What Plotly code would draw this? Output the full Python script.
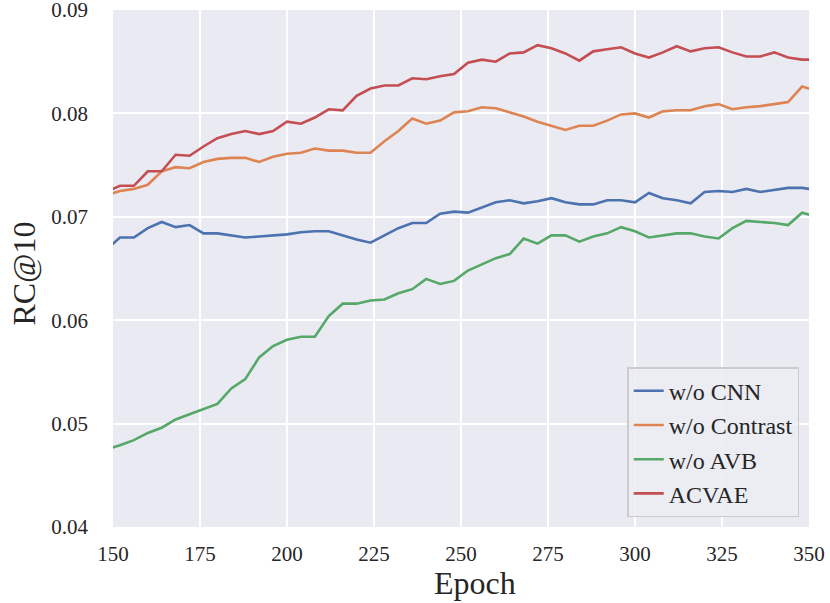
import plotly.graph_objects as go

# epochs every 4, slightly beyond the visible 150-350 window
epochs = list(range(148, 353, 4))

wo_cnn = [0.0668, 0.0680, 0.0680, 0.0689, 0.0695, 0.0690, 0.0692, 0.0684, 0.0684, 0.0682,
          0.0680, 0.0681, 0.0682, 0.0683, 0.0685, 0.0686, 0.0686, 0.0682, 0.0678, 0.0675,
          0.0682, 0.0689, 0.0694, 0.0694, 0.0703, 0.0705, 0.0704, 0.0709, 0.0714, 0.0716,
          0.0713, 0.0715, 0.0718, 0.0714, 0.0712, 0.0712, 0.0716, 0.0716, 0.0714, 0.0723,
          0.0718, 0.0716, 0.0713, 0.0724, 0.0725, 0.0724, 0.0727, 0.0724, 0.0726, 0.0728,
          0.0728, 0.0726]

wo_contrast = [0.0721, 0.0725, 0.0727, 0.0731, 0.0744, 0.0748, 0.0747, 0.0753, 0.0756, 0.0757,
               0.0757, 0.0753, 0.0758, 0.0761, 0.0762, 0.0766, 0.0764, 0.0764, 0.0762, 0.0762,
               0.0773, 0.0783, 0.0795, 0.0790, 0.0793, 0.0801, 0.0802, 0.0806, 0.0805, 0.0801,
               0.0797, 0.0792, 0.0788, 0.0784, 0.0788, 0.0788, 0.0793, 0.0799, 0.0800, 0.0796,
               0.0802, 0.0803, 0.0803, 0.0807, 0.0809, 0.0804, 0.0806, 0.0807, 0.0809, 0.0811,
               0.0826, 0.0822]

wo_avb = [0.0475, 0.0479, 0.0484, 0.0491, 0.0496, 0.0504, 0.0509, 0.0514, 0.0519, 0.0534,
          0.0543, 0.0564, 0.0575, 0.0581, 0.0584, 0.0584, 0.0604, 0.0616, 0.0616, 0.0619,
          0.0620, 0.0626, 0.0630, 0.0640, 0.0635, 0.0638, 0.0648, 0.0654, 0.0660, 0.0664,
          0.0679, 0.0674, 0.0682, 0.0682, 0.0676, 0.0681, 0.0684, 0.0690, 0.0686, 0.0680,
          0.0682, 0.0684, 0.0684, 0.0681, 0.0679, 0.0689, 0.0696, 0.0695, 0.0694, 0.0692,
          0.0704, 0.0700]

acvae = [0.0724, 0.0730, 0.0730, 0.0744, 0.0744, 0.0760, 0.0759, 0.0768, 0.0776, 0.0780,
         0.0783, 0.0780, 0.0783, 0.0792, 0.0790, 0.0796, 0.0804, 0.0803, 0.0817, 0.0824,
         0.0827, 0.0827, 0.0834, 0.0833, 0.0836, 0.0838, 0.0849, 0.0852, 0.0850, 0.0858,
         0.0859, 0.0866, 0.0863, 0.0858, 0.0851, 0.0860, 0.0862, 0.0864, 0.0858, 0.0854,
         0.0859, 0.0865, 0.0860, 0.0863, 0.0864, 0.0859, 0.0855, 0.0855, 0.0859, 0.0854,
         0.0852, 0.0852]

x_ticks = [150, 175, 200, 225, 250, 275, 300, 325, 350]
y_ticks = [0.04, 0.05, 0.06, 0.07, 0.08, 0.09]

series = [
    ("w/o CNN", wo_cnn, "#4C72B0"),
    ("w/o Contrast", wo_contrast, "#DD8452"),
    ("w/o AVB", wo_avb, "#55A868"),
    ("ACVAE", acvae, "#C44E52"),
]

fig = go.Figure()
for name, vals, color in series:
    fig.add_trace(go.Scatter(x=epochs, y=vals, mode="lines", name=name,
                             line=dict(color=color, width=2.6)))

font_family = "Liberation Serif"
fig.update_layout(
    width=830, height=603,
    margin=dict(l=113, r=21, t=10, b=76),
    paper_bgcolor="white",
    plot_bgcolor="#EAEAF2",
    font=dict(family=font_family, color="#262626", size=21),
    legend=dict(
        x=0.986, y=0.019, xanchor="right", yanchor="bottom",
        bgcolor="rgba(236,236,243,0.85)",
        bordercolor="#cccccc", borderwidth=1.5,
        font=dict(size=24, family=font_family, color="#262626"),
    ),
    showlegend=True,
)
fig.update_xaxes(
    range=[150, 350], tickvals=x_ticks,
    showgrid=True, gridcolor="white", gridwidth=2, zeroline=False,
    showline=False, ticks="", ticklabelstandoff=12, automargin=False,
    tickfont=dict(size=21),
)
fig.update_yaxes(
    range=[0.0399999, 0.0900001], tickvals=y_ticks,
    tickformat=".2f",
    showgrid=True, gridcolor="white", gridwidth=2, zeroline=False,
    showline=False, ticks="", ticklabelstandoff=24, automargin=False,
    ticklabeloverflow="allow",
    tickfont=dict(size=21),
)

# axis titles as annotations so they sit where the reference puts them
fig.add_annotation(text="Epoch", xref="paper", yref="paper", x=0.52, y=-0.108,
                   xanchor="center", yanchor="middle", showarrow=False,
                   font=dict(size=32, family=font_family, color="#262626"))
fig.add_annotation(text="RC@10", xref="paper", yref="paper", x=-0.128, y=0.49,
                   xanchor="center", yanchor="middle", showarrow=False, textangle=-90,
                   font=dict(size=32, family=font_family, color="#262626"))

# drop the browser's default body margin so the figure fills the window
fig.write_html("out.html", config={"displayModeBar": False},
               post_script="document.body.style.margin='0';")
